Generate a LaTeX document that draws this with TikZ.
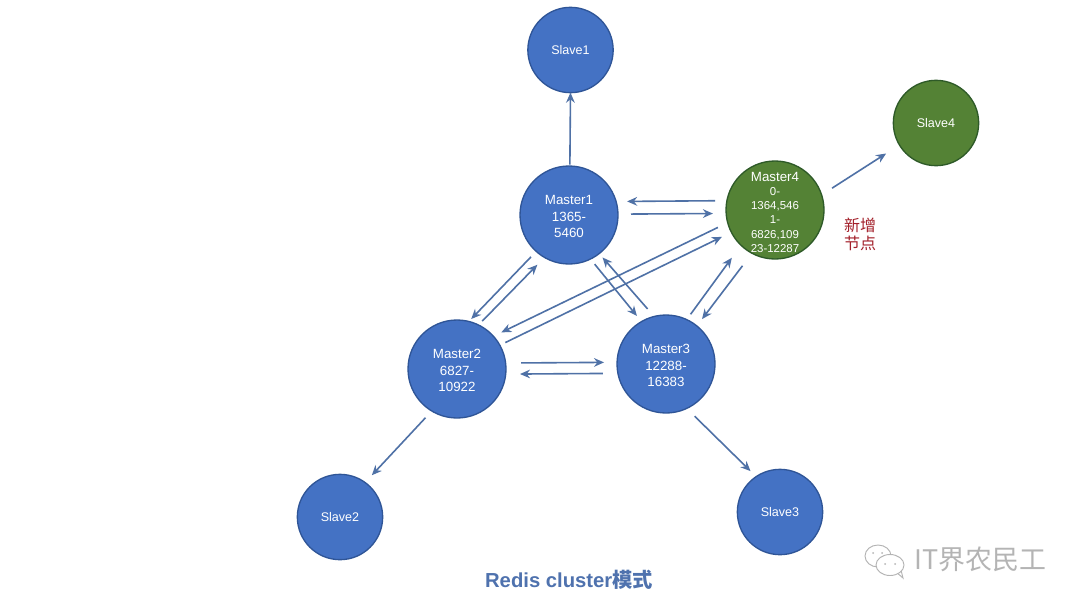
\documentclass[tikz,border=0pt]{standalone}
\usepackage{fontspec}
\setmainfont{Liberation Sans}
\newfontfamily\cjkf{Noto Sans CJK SC}
\usetikzlibrary{arrows.meta}
\definecolor{nodeblue}{HTML}{4472C4}
\definecolor{nodeblueedge}{HTML}{2F5597}
\definecolor{nodegreen}{HTML}{548235}
\definecolor{nodegreenedge}{HTML}{2E5A28}
\definecolor{linkblue}{HTML}{4F71A6}
\definecolor{newred}{HTML}{A3202A}
\definecolor{titleblue}{HTML}{4F72AE}
\definecolor{markgray}{HTML}{B4B4B4}
\tikzset{
  x=0.75pt, y=-0.75pt,
  anynode/.style={circle, inner sep=0pt, outer sep=0pt, text=white, align=center, line width=1pt},
  masterblue/.style={anynode, draw=nodeblueedge, fill=nodeblue, minimum size=73.5pt, font=\fontsize{10}{12.4}\selectfont},
  slaveblue/.style={anynode, draw=nodeblueedge, fill=nodeblue, minimum size=64pt, font=\fontsize{9.4}{12}\selectfont},
  slavegreen/.style={anynode, draw=nodegreenedge, fill=nodegreen, minimum size=64pt, font=\fontsize{9.4}{12}\selectfont},
  mastergreen/.style={anynode, draw=nodegreenedge, fill=nodegreen, minimum size=73.5pt, font=\fontsize{8.6}{10.7}\selectfont},
  link/.style={draw=linkblue, line width=1.2pt, -{Stealth[length=7.5pt,width=6.5pt]}},
  gap/.style 2 args={shorten <=#1*0.75pt, shorten >=#2*0.75pt},
  wechat/.style={draw=markgray, line width=0.7pt, fill=white}
}
\begin{document}
\begin{tikzpicture}
\useasboundingbox (0,0) rectangle (1080,607);
\fill[white] (0,0) rectangle (1080,607);

\node[slaveblue] (s1) at (570.5,50) {Slave1};
\node[slavegreen] (s4) at (936,123) {Slave4};
\node[masterblue] (m1) at (569,215) {\rule{0pt}{9.4pt}Master1\\1365-\\5460};
\node[mastergreen] (m4) at (775,210) {\rule{0pt}{10.2pt}{\fontsize{10}{10.7}\selectfont Master4}\\0-\\1364,546\\1-\\6826,109\\23-12287};
\node[masterblue] (m2) at (457,369) {\rule{0pt}{9.4pt}Master2\\6827-\\10922};
\node[masterblue] (m3) at (666,364) {\rule{0pt}{9.4pt}Master3\\12288-\\16383};
\node[slaveblue] (s2) at (340,517) {Slave2};
\node[slaveblue] (s3) at (780,512) {Slave3};

\draw[link,gap={1.5}{0}] (m1.89) -- (s1.south);
\draw[link,gap={12.4}{15.8}] (m4.18.3) -- (s4.211.7);
\draw[link,gap={11.8}{11}] (m4.169.4) -- (m1.16.6);
\draw[link,gap={13}{13.2}] (m1.1.2) -- (m4.184.7);
\draw[link,gap={7.6}{3.4}] (m1.228.1) -- (m2.76.3);
\draw[link,gap={5.4}{10.2}] (m2.64.4) -- (m1.240.9);
\draw[link,gap={6.6}{7.2}] (m1.296.4) -- (m3.120);
\draw[link,gap={10}{5.1}] (m3.104.8) -- (m1.308.9);
\draw[link,gap={10.9}{8.8}] (m4.195.7) -- (m2.42.6);
\draw[link,gap={6.1}{10.5}] (m2.29.8) -- (m4.207.2);
\draw[link,gap={6.6}{15.5}] (m3.65.9) -- (m4.226.6);
\draw[link,gap={15.7}{8.6}] (m4.242.8) -- (m3.51.2);
\draw[link,gap={15.4}{13}] (m2.7) -- (m3.178.8);
\draw[link,gap={15}{14.3}] (m3.191.8) -- (m2.354.1);
\draw[link,gap={9.2}{9.9}] (m2.239.7) -- (s2.54.1);
\draw[link,gap={11.1}{7.9}] (m3.295.6) -- (s3.124.6);

\node[text=newred, align=center, font=\cjkf\fontsize{12}{13.5}\selectfont] (newlabel) at (860,234) {新增\\节点};
\node[text=titleblue, font=\bfseries\fontsize{15.2}{18}\selectfont] (title) at (569,580) {Redis cluster{\cjkf 模式}};

% watermark
\draw[wechat] (878,556) ellipse (13 and 11);
\draw[wechat] (896,572) -- (903,578) -- (901,570);
\draw[wechat] (890,565) ellipse (14 and 10.5);
\fill[markgray] (873,553) circle (1) (882,553) circle (1) (885,564) circle (1) (895,564) circle (1);
\node[text=markgray, font=\cjkf\fontsize{20.2}{22}\selectfont, anchor=west, inner sep=0pt] (mark) at (914,559) {IT界农民工};
\end{tikzpicture}
\end{document}
